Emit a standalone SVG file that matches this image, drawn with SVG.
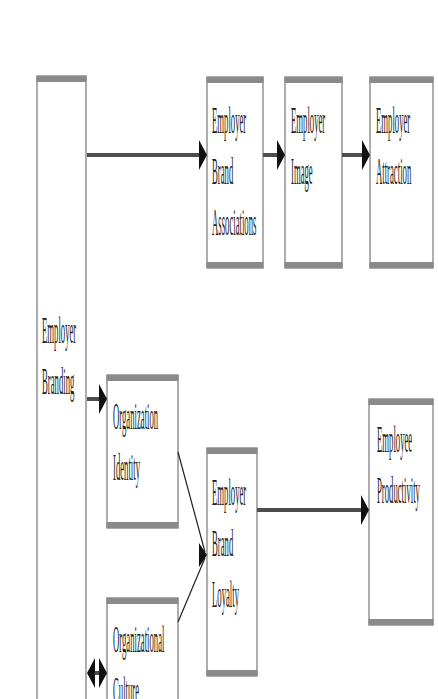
<svg xmlns="http://www.w3.org/2000/svg" width="438" height="699" viewBox="0 0 438 699">
<defs>
<style>
.box{fill:#fff;stroke:#8a8a8a;stroke-width:1.4}
.bar{fill:#8a8a8a}
.lbl{font-family:"Liberation Serif","Times New Roman",serif;font-size:37px;fill:#222}
.arr{stroke:#4d4d4d;stroke-width:4;fill:none}
.thin{stroke:#222;stroke-width:1.2;fill:none}
</style>
<marker id="ah" viewBox="0 0 8 30" markerWidth="8" markerHeight="30" refX="2" refY="15" orient="auto-start-reverse" markerUnits="userSpaceOnUse">
<path d="M0,0 L8,15 L0,30 Z" fill="#111"/>
</marker>
</defs>
<rect width="438" height="699" fill="#fff"/>

<g id="employer-branding">
<rect class="box" x="37" y="76" width="49" height="640"/>
<rect class="bar" x="36.5" y="76" width="50" height="6"/>
<text class="lbl" transform="translate(42,343) scale(0.235,1)"><tspan x="0" y="0">Employer</tspan><tspan x="0" y="51">Branding</tspan></text>
</g>

<g id="employer-brand-associations">
<rect class="box" x="207" y="77" width="56" height="191"/>
<rect class="bar" x="206.5" y="77" width="57" height="6"/>
<rect class="bar" x="206.5" y="262" width="57" height="6"/>
<text class="lbl" transform="translate(212,133) scale(0.235,1)"><tspan x="0" y="0">Employer</tspan><tspan x="0" y="51">Brand</tspan><tspan x="0" y="102">Associations</tspan></text>
</g>

<g id="employer-image">
<rect class="box" x="285" y="77" width="57" height="191"/>
<rect class="bar" x="284.5" y="77" width="58" height="6"/>
<rect class="bar" x="284.5" y="262" width="58" height="6"/>
<text class="lbl" transform="translate(291,133) scale(0.235,1)"><tspan x="0" y="0">Employer</tspan><tspan x="0" y="51">Image</tspan></text>
</g>

<g id="employer-attraction">
<rect class="box" x="370" y="77" width="63" height="191"/>
<rect class="bar" x="369.5" y="77" width="64" height="6"/>
<rect class="bar" x="369.5" y="262" width="64" height="6"/>
<text class="lbl" transform="translate(376,133) scale(0.235,1)"><tspan x="0" y="0">Employer</tspan><tspan x="0" y="51">Attraction</tspan></text>
</g>

<g id="organization-identity">
<rect class="box" x="107" y="375" width="71" height="153"/>
<rect class="bar" x="106.5" y="375" width="72" height="6"/>
<rect class="bar" x="106.5" y="522" width="72" height="6"/>
<text class="lbl" transform="translate(113,429) scale(0.235,1)"><tspan x="0" y="0">Organization</tspan><tspan x="0" y="51">Identity</tspan></text>
</g>

<g id="organizational-culture">
<rect class="box" x="107" y="598" width="71" height="130"/>
<rect class="bar" x="106.5" y="598" width="72" height="6"/>
<text class="lbl" transform="translate(113,652) scale(0.235,1)"><tspan x="0" y="0">Organizational</tspan><tspan x="0" y="51">Culture</tspan></text>
</g>

<g id="employer-brand-loyalty">
<rect class="box" x="207" y="448" width="50" height="228"/>
<rect class="bar" x="206.5" y="448" width="51" height="6"/>
<rect class="bar" x="206.5" y="670" width="51" height="6"/>
<text class="lbl" transform="translate(212,505) scale(0.235,1)"><tspan x="0" y="0">Employer</tspan><tspan x="0" y="51">Brand</tspan><tspan x="0" y="102">Loyalty</tspan></text>
</g>

<g id="employee-productivity">
<rect class="box" x="369" y="399" width="64" height="226"/>
<rect class="bar" x="368.5" y="399" width="65" height="6"/>
<rect class="bar" x="368.5" y="619" width="65" height="6"/>
<text class="lbl" transform="translate(377,452) scale(0.235,1)"><tspan x="0" y="0">Employee</tspan><tspan x="0" y="51">Productivity</tspan></text>
</g>

<g id="connectors">
<line class="arr" x1="87" y1="155" x2="201" y2="155" marker-end="url(#ah)"/>
<line class="arr" x1="263" y1="155" x2="279" y2="155" marker-end="url(#ah)"/>
<line class="arr" x1="342" y1="155" x2="364" y2="155" marker-end="url(#ah)"/>
<line class="arr" x1="87" y1="399" x2="101" y2="399" marker-end="url(#ah)"/>
<line class="arr" x1="257" y1="510" x2="363" y2="510" marker-end="url(#ah)"/>
<line class="arr" x1="93" y1="673" x2="101" y2="673" marker-start="url(#ah)" marker-end="url(#ah)"/>
<line class="thin" x1="178" y1="452" x2="205" y2="552"/>
<line class="thin" x1="178" y1="622" x2="205" y2="558"/>
<path d="M199,543 L207,555 L199,567 Z" fill="#111"/>
</g>
</svg>
